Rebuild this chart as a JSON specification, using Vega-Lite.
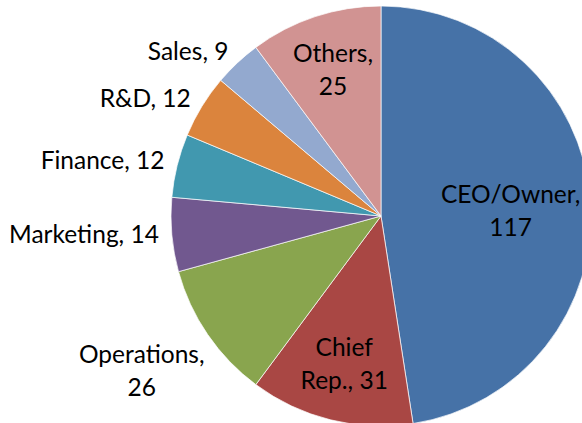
{
  "$schema": "https://vega.github.io/schema/vega-lite/v6.json",
  "width": 420,
  "height": 420,
  "autosize": "none",
  "padding": {"left": 171, "top": 6, "right": 0, "bottom": 0},
  "background": "white",
  "view": {"stroke": null},
  "data": {
    "values": [
      {"role": "CEO/Owner", "count": 117, "order": 1, "label": ["CEO/Owner,", "117"], "pos": "in1"},
      {"role": "Chief Rep.", "count": 31, "order": 2, "label": ["Chief", "Rep., 31"], "pos": "in2"},
      {"role": "Operations", "count": 26, "order": 3, "label": ["Operations,", "26"], "pos": "outc"},
      {"role": "Marketing", "count": 14, "order": 4, "label": "Marketing, 14", "pos": "out"},
      {"role": "Finance", "count": 12, "order": 5, "label": "Finance, 12", "pos": "out"},
      {"role": "R&D", "count": 12, "order": 6, "label": "R&D, 12", "pos": "out"},
      {"role": "Sales", "count": 9, "order": 7, "label": "Sales, 9", "pos": "out"},
      {"role": "Others", "count": 25, "order": 8, "label": ["Others,", "25"], "pos": "in2"}
    ]
  },
  "encoding": {
    "theta": {"field": "count", "type": "quantitative", "stack": true},
    "order": {"field": "order", "type": "quantitative"}
  },
  "layer": [
    {
      "mark": {"type": "arc", "stroke": "white", "strokeWidth": 0.7},
      "encoding": {
        "color": {
          "field": "role",
          "type": "nominal",
          "scale": {
            "domain": ["CEO/Owner", "Chief Rep.", "Operations", "Marketing", "Finance", "R&D", "Sales", "Others"],
            "range": ["#4672A7", "#A94744", "#89A54E", "#71588F", "#4198AF", "#DB843D", "#93A9CF", "#D19392"]
          },
          "legend": null
        }
      }
    },
    {
      "mark": {"type": "text", "radius": 130, "dy": -10, "font": "Lato", "fontSize": 24.5, "lineHeight": 33, "fill": "black", "align": "center", "baseline": "middle"},
      "encoding": {"text": {"condition": {"test": "datum.pos == 'in1'", "field": "label"}, "value": ""}}
    },
    {
      "mark": {"type": "text", "radius": 153, "dy": -16, "font": "Lato", "fontSize": 24.5, "lineHeight": 33, "fill": "black", "align": "center", "baseline": "middle"},
      "encoding": {"text": {"condition": {"test": "datum.pos == 'in2'", "field": "label"}, "value": ""}}
    },
    {
      "mark": {"type": "text", "radius": 223, "font": "Lato", "fontSize": 24.5, "fill": "black", "align": "right", "baseline": "middle"},
      "encoding": {"text": {"condition": {"test": "datum.pos == 'out'", "field": "label"}, "value": ""}}
    },
    {
      "mark": {"type": "text", "radius": 290, "dy": -24, "font": "Lato", "fontSize": 24.5, "lineHeight": 33, "fill": "black", "align": "center", "baseline": "middle"},
      "encoding": {"text": {"condition": {"test": "datum.pos == 'outc'", "field": "label"}, "value": ""}}
    }
  ]
}
